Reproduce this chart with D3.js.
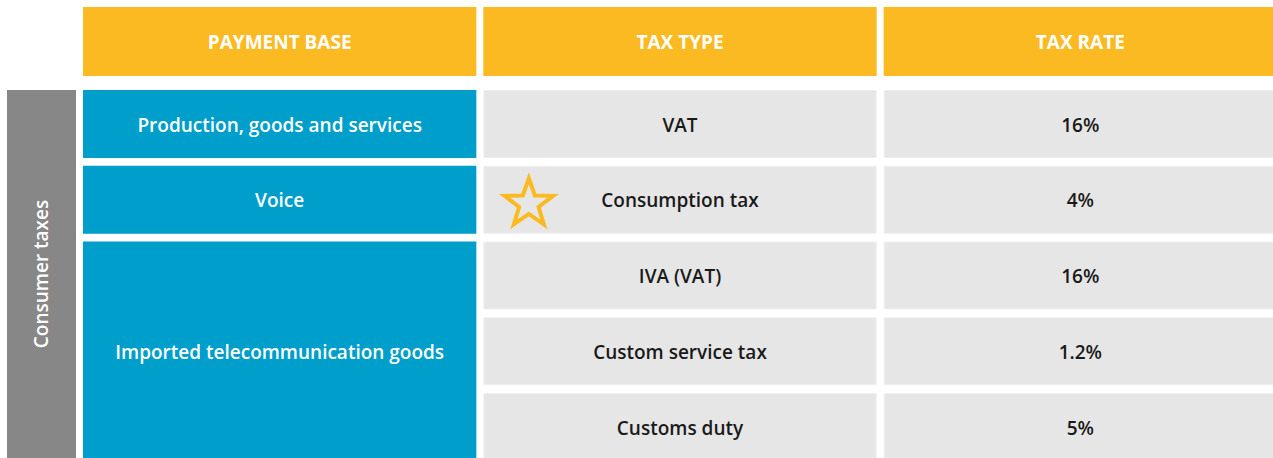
<!DOCTYPE html>
<meta charset="utf-8">
<script src="https://d3js.org/d3.v7.min.js"></script>
<style>
  body { margin: 0; background: #fff; }
  text { font-family: "Open Sans", sans-serif; }
</style>
<div id="my_table"></div>
<script>
  // table contents
  var headers = ["PAYMENT BASE", "TAX TYPE", "TAX RATE"];
  var groupLabel = "Consumer taxes";
  var paymentBase = ["Production, goods and services", "Voice", "Imported telecommunication goods"];
  var paymentSpan = [1, 1, 3];
  var taxTypes = ["VAT", "Consumption tax", "IVA (VAT)", "Custom service tax", "Customs duty"];
  var taxRates = ["16%", "4%", "16%", "1.2%", "5%"];
  var starRow = 1;

  var width = 1273, height = 458;

  var svg = d3.select("#my_table")
    .append("svg")
    .attr("width", width)
    .attr("height", height);

  // columns and rows
  var x = d3.scaleBand()
    .domain(d3.range(headers.length))
    .range([83, 1277])
    .paddingInner(0.0175);

  var y = d3.scaleBand()
    .domain(d3.range(taxTypes.length))
    .range([90, 461])
    .paddingInner(0.102);

  var orange = "#fbba21", blue = "#009ecb", grey = "#878787", cell = "#e6e6e6";

  // header
  svg.selectAll(".head")
    .data(headers)
    .enter()
    .append("rect")
    .attr("x", function(d, i) { return x(i) })
    .attr("y", 7)
    .attr("width", x.bandwidth())
    .attr("height", 69)
    .style("fill", orange);

  svg.selectAll(".headtxt")
    .data(headers)
    .enter()
    .append("text")
    .attr("x", function(d, i) { return x(i) + x.bandwidth() / 2 })
    .attr("y", 42)
    .attr("dy", "0.35em")
    .attr("text-anchor", "middle")
    .style("font-size", "19px")
    .style("font-weight", 700)
    .style("fill", "#fff")
    .text(function(d) { return d });

  // left grey group bar
  svg.append("rect")
    .attr("x", 7)
    .attr("y", y(0))
    .attr("width", 69)
    .attr("height", height - y(0))
    .style("fill", grey);

  svg.append("text")
    .attr("transform", "translate(41.5," + ((y(0) + height) / 2) + ") rotate(-90)")
    .attr("dy", "0.35em")
    .attr("text-anchor", "middle")
    .style("font-size", "19px")
    .style("font-weight", 600)
    .style("fill", "#fff")
    .text(groupLabel);

  // payment base (merged cells)
  var starts = [];
  var acc = 0;
  paymentSpan.forEach(function(s) { starts.push(acc); acc += s; });

  var pb = svg.selectAll(".pb")
    .data(paymentBase)
    .enter()
    .append("g");

  pb.append("rect")
    .attr("x", x(0))
    .attr("y", function(d, i) { return y(starts[i]) })
    .attr("width", x.bandwidth())
    .attr("height", function(d, i) {
      return y(starts[i] + paymentSpan[i] - 1) + y.bandwidth() - y(starts[i])
    })
    .style("fill", blue);

  pb.append("text")
    .attr("x", x(0) + x.bandwidth() / 2)
    .attr("y", function(d, i) {
      return (y(starts[i]) + y(starts[i] + paymentSpan[i] - 1) + y.bandwidth()) / 2 + 1
    })
    .attr("dy", "0.35em")
    .attr("text-anchor", "middle")
    .style("font-size", "19px")
    .style("font-weight", 600)
    .style("fill", "#fff")
    .text(function(d) { return d });

  // tax type and tax rate cells
  var cols = [taxTypes, taxRates];
  cols.forEach(function(col, c) {
    svg.selectAll(".c" + c)
      .data(col)
      .enter()
      .append("rect")
      .attr("x", x(c + 1) + 0.5)
      .attr("y", function(d, i) { return y(i) + 0.5 })
      .attr("width", x.bandwidth() - 1)
      .attr("height", y.bandwidth() - 1)
      .style("fill", cell)
      .style("stroke", "#f0f0f0")
      .style("stroke-width", 1);

    svg.selectAll(".t" + c)
      .data(col)
      .enter()
      .append("text")
      .attr("x", x(c + 1) + x.bandwidth() / 2)
      .attr("y", function(d, i) { return y(i) + y.bandwidth() / 2 + 1 })
      .attr("dy", "0.35em")
      .attr("text-anchor", "middle")
      .style("font-size", "19px")
      .style("font-weight", 600)
      .style("fill", "#1a1a1a")
      .text(function(d) { return d });
  });

  // star marker
  var R = 25.5, r = R * 0.4;
  var pts = d3.range(10).map(function(k) {
    var a = -Math.PI / 2 + k * Math.PI / 5;
    var rad = k % 2 === 0 ? R : r;
    return [Math.cos(a) * rad, Math.sin(a) * rad];
  });
  svg.append("path")
    .attr("transform", "translate(" + (x(1) + 45.5) + "," + (y(starRow) + 38) + ")")
    .attr("d", d3.line()(pts) + "Z")
    .style("fill", "none")
    .style("stroke", orange)
    .style("stroke-width", 4)
    .style("stroke-linejoin", "miter");
</script>
